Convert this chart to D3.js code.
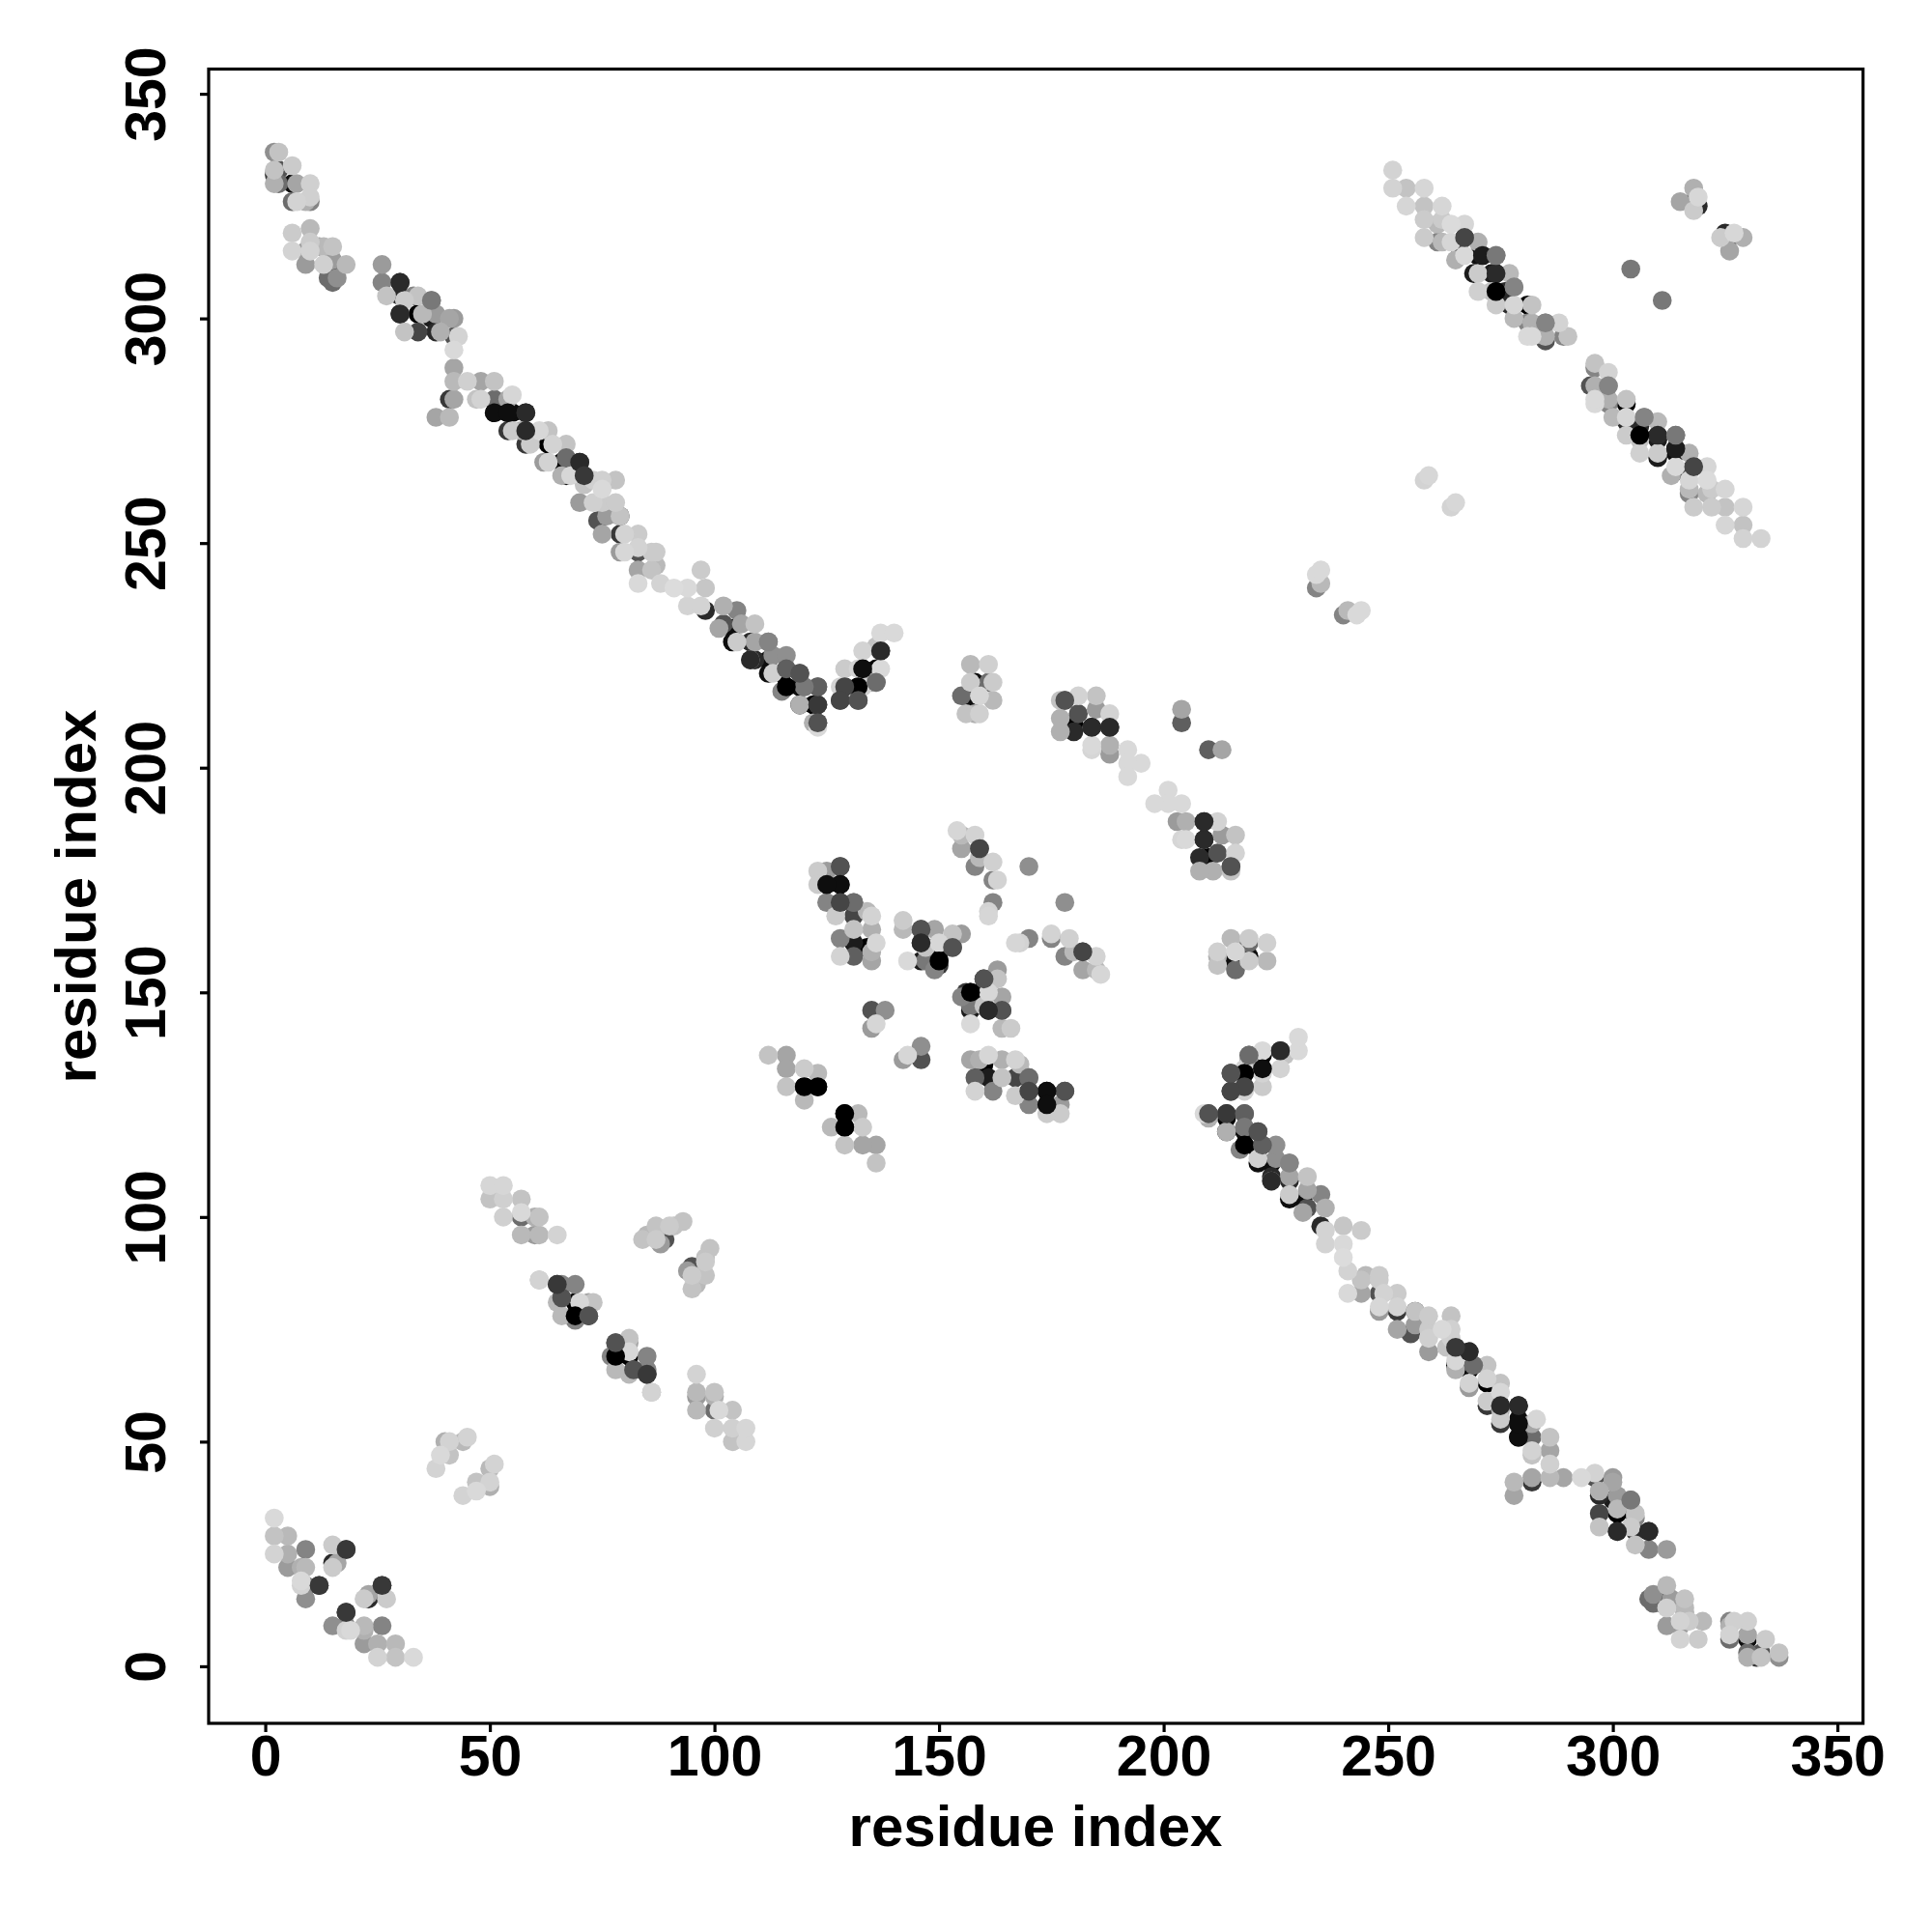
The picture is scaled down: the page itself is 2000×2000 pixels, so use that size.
<!DOCTYPE html>
<html><head><meta charset="utf-8">
<script src="https://cdn.jsdelivr.net/npm/d3@7"></script>
<style>html,body{margin:0;background:#fff}svg{display:block}text{font-family:"Liberation Sans",Arial,sans-serif;font-weight:bold;fill:#000}</style>
</head><body><div id="chart"></div>
<script>
// [residue i, residue j, contact strength 0..1]; the map is symmetric, only i<j is listed
const terminalPairs = [[2,333,.2],[2,332,.8],[2,337,.45],[3,337,.2],[3,333,.7],[6,334,.15],[2,330,.3],[3,330,.6],[6,330,.95],[7,330,.35],[10,330,.12],[6,326,.6],[7,326,.1],[10,326,.5],[9,326,.3],[10,327,.12],
[6,319,.15],[10,320,.25],[6,315,.1],[9,315,.4],[9,312,.4],[10,317,.15],[10,315,.1],[12,316,.35],[13,316,.25],[15,316,.2],[13,312,.12],[14,311,.95],[15,313,.4],[18,312,.25],[14,309,.6],[15,308,.6],[16,309,.45]];
const helixB = [[26,312,.4],[26,308,.5],[27,305,.2],[30,308,.85],[30,305,.85],[30,301,.85],[31,304,.15],[31,297,.2],[33,305,.5],[34,301,1],[34,305,.2],[35,301,.25],[37,304,.55],[34,297,.75],[38,297,.85],[37,300,.9],[38,301,.4],[39,297,.3],[41,300,.35],[42,300,.4],[42,296,.7],[43,296,.1],[42,293,.05],[42,289,.35],[42,286,.25],[41,282,.8],[42,282,.35],[38,278,.35],[41,278,.25]];
const helixC1 = [[45,286,.12],[48,286,.35],[51,286,.2],[47,282,.2],[48,282,.1],[51,282,.6],[51,279,.95],[54,282,.35],[55,283,.08],[54,279,.95],[55,279,.95],[58,279,.85],[54,275,.8],[55,275,.15],[58,275,.85],[57,275,.3],[58,272,.8],[59,272,.15],[61,275,.07],[63,275,.2],[63,272,1],[64,272,.1],[67,272,.2],[62,268,.4],[63,268,.1],[66,268,1],[67,269,.6],[70,268,.85],[66,265,.3],[67,265,.95],[68,265,.07],[70,265,.95],[71,265,.8],[71,263,.2],
[73,264,.12],[75,264,.12],[78,264,.2],[75,262,.05],[70,259,.4],[73,259,.12],[75,259,.15],[78,259,.15],[74,255,.7],[76,256,.4],[79,256,.75],[79,256,.2],[75,252,.35],[79,252,.8],[80,252,.1],[83,252,.15],[79,248,.4],[80,248,.07],[83,248,.7],[83,249,.1],[86,248,.15],[87,248,.15],[83,244,.35],[86,244,.2],[87,245,.25],[83,241,.05],[88,241,.1],[91,240,.03]];
const helixC2 = [[97,244,.15],[94,240,.05],[98,240,.18],[94,236,.1],[98,235,.85],[97,236,.1],[102,236,.3],[101,231,.35],[102,232,.7],[105,235,.5],[104,231,.95],[106,232,.35],[109,232,.2],[104,228,.95],[105,228,.15],[108,228,.85],[109,228,.35],[112,228,.5],[108,224,.25],[109,224,.85],[112,224,.95],[113,225,.45],[116,225,.45],[112,221,.95],[113,221,.12],[115,221,1],[116,222,.65],[119,221,.7],[115,217,.5],[116,218,1],[119,218,.95],[120,218,.55],[123,218,.65],[119,214,.95],[119,214,.3],[122,214,1],[123,214,.8],[122,210,.3],[123,209,.05],[123,210,.7]];
const helixD = [[128,215,.75],[132,215,.7],[128,218,.1],[129,218,.75],[129,222,.15],[132,218,1],[133,218,.1],[135,219,.35],[136,219,.6],[132,222,.1],[133,222,.95],[133,226,.1],[136,222,1],[137,222,.05],[136,227,.2],[137,226,.85],[137,230,.05],[140,230,.05]];
const clusterE = [[155,216,.6],[157,223,.25],[161,223,.12],[157,219,.15],[158,219,.95],[161,219,.6],[162,219,.15],[157,215,.95],[159,216,.08],[162,215,.25],[156,212,.2],[158,212,.3],[159,212,.12]];
const clusterG = [[177,215,.2],[178,215,.7],[181,216,.1],[185,216,.2],[177,211,.3],[181,212,.7],[180,210,1],[185,213,.4],[188,212,.1],[184,209,.85],[188,209,.85],[177,208,.3],[180,208,.85],[184,205,.05],[188,205,.3],[184,204,.08],[188,203,.4],[192,204,.05],[195,201,.05],[192,201,.05],[192,198,.05],[204,213,.35],[204,210,.65]];
const clusterF = [[123,177,.15],[125,177,.4],[128,178,.7],[123,174,.15],[125,174,.95],[128,174,.95],[125,170,.5],[128,170,.75],[131,170,.6],[127,167,.15],[131,167,.75],[134,168,.25],[135,167,.1],[131,164,.2],[135,164,.3],[128,162,.5],[131,161,.9],[134,160,1],[136,161,.08],[131,158,.65],[135,157,.35],[128,158,.1],[135,159,.3]];
const clusterH = [[142,166,.15],[142,164,.25],[146,164,.7],[149,164,.35],[153,163,.2],[155,163,.4],[146,161,.85],[146,157,.9],[143,157,.05],[147,157,.55],[149,155,.5],[147,160,.2],[149,160,.95],[150,159,.95],[150,161,.07],[150,157,1],[153,160,.7],[150,156,.8],
[135,146,.7],[138,146,.45],[135,142,.4],[136,143,.08]];
const clusterM = [[154,186,.08],[155,185,.25],[155,182,.35],[158,185,.1],[159,182,.75],[159,180,.25],[158,178,.5],[162,179,.12],[162,175,.5],[163,175,.1],[162,170,.5],[161,168,.1],[161,167,.08],[170,178,.45]];
const clusterP = [[112,136,.2],[116,136,.35],[116,133,.35],[120,133,.15],[123,132,.25],[116,129,.2],[120,129,1],[123,129,1],[120,126,.25]];
const lowerLeft = [[2,33,.05],[2,29,.2],[5,29,.25],[2,25,.1],[5,25,.3],[9,26,.5],[5,22,.4],[8,22,.3],[9,22,.25],[15,27,.15],[18,26,.8],[15,23,.85],[16,23,.35],[15,22,.15],[8,18,.1],[8,19,.05],[9,18,.5],[12,18,.8],[9,15,.45],
[38,44,.1],[39,47,.05],[41,47,.2],[40,50,.3],[41,50,.1],[44,50,.25],[45,51,.1]];
const midBands = [[50,107,.08],[53,107,.08],[50,104,.2],[53,104,.12],[57,104,.2],[53,100,.12],[57,100,.6],[57,101,.05],[57,96,.25],[60,100,.3],[61,100,.2],[60,96,.4],[61,96,.25],[65,96,.1],
[61,86,.25],[61,86,.1],[65,85,.8],[66,85,.5],[69,85,.5],[65,81,.25],[66,82,.7],[69,81,1],[70,81,.07],[72,81,.35],[73,81,.2],[66,78,.25],[69,77,.5],[69,78,1],[72,78,.7],
[84,95,.2],[85,96,.25],[88,94,.4],[89,95,.7],[87,95,.15],[87,97,.3],[87,98,.2],[90,98,.15],[91,98,.2],[93,99,.2]];
const upperBand = [[251,333,.1],[251,329,.1],[254,329,.2],[258,329,.08],[254,325,.08],[258,325,.2],[262,325,.08],[258,322,.15],[258,318,.15],[261,321,.25],[262,322,.15],[264,321,.04],[267,321,.08],[261,317,.5],[262,317,.25],[264,317,.08],[266,317,.7],[267,318,.75],[270,317,.3],
[265,313,.3],[266,314,1],[267,314,.05],[270,314,.95],[271,314,.9],[274,314,.55],[269,310,.9],[270,310,.15],[273,310,.9],[274,310,.85],[277,310,.25],[270,306,.12],[273,306,.2],[274,306,1],[276,306,.85],[278,307,.5],[274,303,.15],[277,303,.85],[278,303,.08],[281,303,1],[282,303,.2],
[278,300,.25],[281,299,.5],[282,299,.3],[285,299,.5],[288,299,.1],[281,296,.05],[282,296,.05],[285,295,.7],[285,296,.3],[289,296,.5],[290,296,.2]];
const isolated = [[304,311,.55],[315,326,.35],[318,329,.3],[318,325,.85],[318,324,.15],[318,326,.6],[319,325,.85],[319,327,.07],[258,264,.1],[259,265,.07],[234,240,.5],[235,241,.25],[234,243,.05],[235,244,.05]];
// dark contacts that lie on top of their neighbours in the picture
const darkOnTop = [[123,214,.8],[123,210,.7],[123,218,.65],[120,218,.55],[116,218,1],[116,222,.65],[119,221,.7],[112,228,.5],[108,224,.85],[137,226,.85],[133,222,.95],[132,218,1],[129,218,.75],[128,215,.75],[132,215,.7],[136,219,.6],
[51,279,.95],[54,279,.95],[58,279,.85],[58,275,.85],[67,269,.6],[70,268,.85],[71,265,.8],[30,308,.85],[30,301,.85],[37,304,.55],
[267,318,.75],[271,314,.9],[274,310,.85],[274,306,1],[278,307,.5],[274,314,.55],[285,299,.5],
[128,178,.7],[128,174,.95],[125,174,.95],[131,170,.6],[128,170,.75],[178,215,.7],[184,209,.85],[188,209,.85],[159,182,.75],[120,129,1],[123,129,1],[146,164,.7],[146,161,.85],[150,157,1],[153,160,.7],[18,26,.8],[12,18,.8],[69,78,1],[72,78,.7],[66,82,.7],[65,85,.8]];
const tickValues = [0,50,100,150,200,250,300,350];
const axisTitle = "residue index";

const upper = [].concat(terminalPairs,helixB,helixC1,helixC2,helixD,clusterE,clusterG,clusterF,clusterH,clusterM,clusterP,lowerLeft,midBands,upperBand,isolated);
const mirror = rows => rows.concat(rows.map(d=>[d[1],d[0],d[2]]));
// darker contacts are painted first, lighter ones lie over them; darkOnTop comes last
const ordered = d3.sort(mirror(upper),(a,b)=>d3.descending(a[2],b[2])).concat(mirror(darkOnTop));

const svg = d3.select("#chart").append("svg").attr("width",2000).attr("height",2000);
const x = d3.scaleLinear().domain([-12.6,355.7]).range([216,1928.6]);
const y = d3.scaleLinear().domain([-12.7,355.5]).range([1784,71.5]);
const shade = d3.scalePow().exponent(1.3).domain([0,1]).range(["#dedede","#000000"]);

svg.append("g").selectAll("circle").data(ordered).join("circle")
  .attr("cx",d=>x(d[0])).attr("cy",d=>y(d[1])).attr("r",9.8).attr("fill",d=>shade(d[2]));

svg.append("rect").attr("x",x.range()[0]).attr("y",y.range()[1])
  .attr("width",x.range()[1]-x.range()[0]).attr("height",y.range()[0]-y.range()[1])
  .attr("fill","none").attr("stroke","#000").attr("stroke-width",3.2);

const gx = svg.append("g").attr("transform",`translate(0,${y.range()[0]})`)
  .call(d3.axisBottom(x).tickValues(tickValues).tickSize(9).tickPadding(0));
const gy = svg.append("g").attr("transform",`translate(${x.range()[0]},0)`)
  .call(d3.axisLeft(y).tickValues(tickValues).tickSize(9).tickPadding(0));
[gx,gy].forEach(g=>{g.select(".domain").remove();g.selectAll("line").attr("stroke","#000").attr("stroke-width",3.2);});
gx.selectAll("text").attr("y",0).attr("dy",0).attr("transform","translate(0,54)").style("font-size","59px").attr("text-anchor","middle");
gy.selectAll("text").attr("x",0).attr("y",0).attr("dy",0)
  .attr("transform","translate(-45,0) rotate(-90)")
  .style("font-size","59px").attr("text-anchor","middle");
svg.append("text").attr("x",1072).attr("y",1911).attr("text-anchor","middle").style("font-size","60px").text(axisTitle);
svg.append("text").attr("transform","translate(99,928) rotate(-90)").attr("text-anchor","middle").style("font-size","60px").text(axisTitle);
</script></body></html>
